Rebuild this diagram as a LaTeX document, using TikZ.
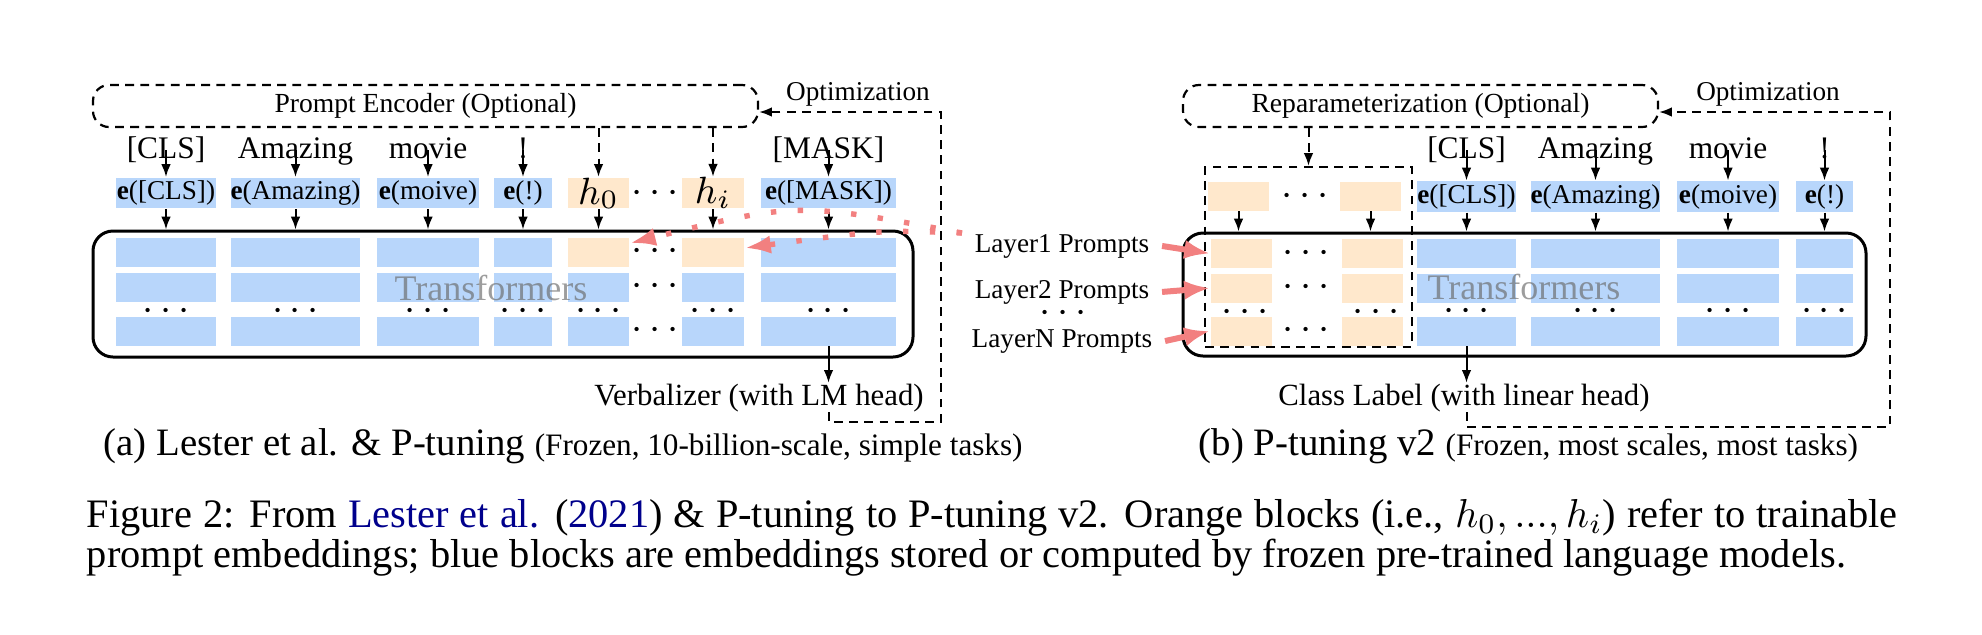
\documentclass[tikz,border=0pt]{standalone}
\usepackage{fix-cm}
\usepackage{fontspec}
\setmainfont{Liberation Serif}
\usetikzlibrary{arrows.meta,calc}
\definecolor{bluec}{RGB}{184,214,251}
\definecolor{orgc}{RGB}{255,232,204}
\definecolor{redc}{RGB}{242,128,128}
\definecolor{navyc}{RGB}{0,0,140}
\definecolor{tfgray}{RGB}{105,105,105}
\newcommand\fsSmall{\fontsize{6.8pt}{8pt}\selectfont}
\newcommand\fsEnc{\fontsize{6.9pt}{8pt}\selectfont}
\newcommand\fsTok{\fontsize{7.85pt}{9pt}\selectfont}
\newcommand\fsLab{\fontsize{7.7pt}{9pt}\selectfont}
\newcommand\fsTf{\fontsize{9pt}{10pt}\selectfont}
\newcommand\fsCap{\fontsize{10.1pt}{10pt}\selectfont}
\newcommand\fsSub{\fontsize{9.7pt}{10pt}\selectfont}
\newcommand\fsPar{\fontsize{7.8pt}{9pt}\selectfont}
\newcommand\fsH{\fontsize{9.5pt}{10pt}\selectfont}
\newcommand\mydots{{\fontsize{10pt}{10pt}\selectfont$\cdots$}}
\begin{document}
\begin{tikzpicture}[x=0.25pt, y=-0.25pt,
 bl/.style={fill=bluec, inner sep=0pt, minimum height=7.25pt},
 og/.style={fill=orgc, inner sep=0pt, minimum height=7.25pt},
 wd/.style={minimum width=#1*0.25pt},
 emb/.style={inner sep=0pt, minimum height=7.6pt, font=\fsSmall},
 tok/.style={inner sep=0pt, font=\fsTok, anchor=base},
 dts/.style={inner sep=0pt},
 lab/.style={inner sep=0pt, font=\fsLab, anchor=base},
 sml/.style={inner sep=0pt, font=\fsSmall, anchor=base},
 arr/.style={line width=0.5pt, -{Latex[length=3.2pt,width=2.4pt]}},
 darr/.style={arr, dash pattern=on 2.2pt off 1.6pt},
 dbox/.style={draw, line width=0.55pt, dash pattern=on 2.2pt off 1.6pt, inner sep=0pt},
 tbox/.style={draw, line width=0.75pt, rounded corners=5pt, inner sep=0pt},
 tft/.style={inner sep=0pt, anchor=base, font=\fsTf, text=tfgray, text opacity=0.65},
 rdot/.style={draw=redc, line width=1.35pt, dash pattern=on 1.35pt off 5.35pt, -{Latex[length=6.5pt,width=4.6pt]}},
 rarr/.style={draw=redc, line width=1.5pt, -{Latex[length=6.5pt,width=4.8pt]}}]
\useasboundingbox (0,0) rectangle (1982,634);

% ================= LEFT PANEL =================
\node[dbox, rounded corners=4pt, minimum width=166.25pt, minimum height=10.5pt, font=\fsEnc] (encA) at (425.5,106) {Prompt Encoder (Optional)};
\node[sml] (optA) at (858,100) {Optimization};
\node[tbox, minimum width=205pt, minimum height=31.5pt] (tfA) at (503,294) {};

% tokens
\node[tok] (Lt1) at (166,158) {[CLS]};
\node[tok] (Lt2) at (295.5,158) {Amazing};
\node[tok] (Lt3) at (428,158) {movie};
\node[tok] (Lt4) at (523,158) {!};
\node[tok] (Lt7) at (828.5,158) {[MASK]};

% embeddings
\node[emb, fill=bluec, wd=100] (Le1) at (166,193) {\textbf{e}([CLS])};
\node[emb, fill=bluec, wd=129] (Le2) at (295.5,193) {\textbf{e}(Amazing)};
\node[emb, fill=bluec, wd=102] (Le3) at (428,193) {\textbf{e}(moive)};
\node[emb, fill=bluec, wd=58] (Le4) at (523,193) {\textbf{e}(!)};
\node[emb, fill=orgc, wd=61, font=\fsH] (Le5) at (598.5,193) {$h_0$};
\node[emb, fill=orgc, wd=62, font=\fsH] (Le6) at (713,193) {$h_i$};
\node[emb, fill=bluec, wd=135] (Le7) at (828.5,193) {\textbf{e}([MASK])};
\node[dts] (Led) at (655,194) {\mydots};

% transformer blocks
\foreach \c/\xx/\w/\f in {1/166/100/bluec,2/295.5/129/bluec,3/428/102/bluec,4/523/58/bluec,5/598.5/61/orgc,6/713/62/orgc,7/828.5/135/bluec}{
  \node[bl, fill=\f, wd=\w] (L1\c) at (\xx,252) {};
  \node[bl, wd=\w] (L2\c) at (\xx,287) {};
  \node[bl, wd=\w] (L3\c) at (\xx,331) {};
  \node[dts] (Ld\c) at (\xx,312) {\mydots};
}
\node[dts] (Lc1) at (655,252) {\mydots};
\node[dts] (Lc2) at (655,287) {\mydots};
\node[dts] (Lc3) at (655,331) {\mydots};
\node[tft] (tfAt) at (491,300) {Transformers};

% arrows
\foreach \c in {1,2,3,4,7}{
  \draw[arr] ([yshift=2pt]Lt\c.base) -- (Le\c.north);
}
\foreach \c in {1,...,7}{
  \draw[arr] (Le\c.south) -- (Le\c.south |- tfA.north);
}
\draw[darr] (encA.south -| Le5) -- (Le5.north);
\draw[darr] (encA.south -| Le6) -- (Le6.north);

\node[lab] (verbA) at (759,405) {Verbalizer (with LM head)};
\draw[arr] (L37.south) -- (L37.south |- verbA.north);
\coordinate (oA) at (941,422);
\coordinate (oAt) at (941,112);
\draw[darr] (verbA.south -| L37.south) |- (oA) -- (oAt) -- (oAt -| encA.east);

\node[inner sep=0pt, anchor=base west, font=\fsSub] (subA) at (103,455) {(a) Lester et al. \& P-tuning {\fsPar (Frozen, 10-billion-scale, simple tasks)}};

% ================= RIGHT PANEL =================
\node[dbox, rounded corners=4pt, minimum width=118.75pt, minimum height=10.5pt, font=\fsEnc] (encB) at (1420.5,106) {Reparameterization (Optional)};
\node[sml] (optB) at (1768,100) {Optimization};
\node[tbox, minimum width=170.75pt, minimum height=30.75pt] (tfB) at (1524.5,294.5) {};
\node[dbox, minimum width=51.75pt, minimum height=45pt] (prm) at (1308.5,257) {};

% prompt embeddings
\node[og, wd=61] (Re1) at (1238.5,196) {};
\node[og, wd=61] (Re2) at (1370.5,196) {};
\node[dts] (Red) at (1305,197) {\mydots};
\foreach \r/\yy in {1/253.5,2/288,3/331}{
  \node[og, wd=61] (RA\r) at (1241.5,\yy) {};
  \node[og, wd=61] (RB\r) at (1372.5,\yy) {};
  \node[dts] (Rc\r) at (1306,\yy) {\mydots};
}
\node[dts] (RdA) at (1245,313) {\mydots};
\node[dts] (RdB) at (1376,313) {\mydots};

% tokens
\node[tok] (Rt1) at (1466.5,158) {[CLS]};
\node[tok] (Rt2) at (1595.5,158) {Amazing};
\node[tok] (Rt3) at (1728,158) {movie};
\node[tok] (Rt4) at (1824.5,158) {!};
\node[emb, fill=bluec, wd=99] (Rf1) at (1466.5,196.5) {\textbf{e}([CLS])};
\node[emb, fill=bluec, wd=129] (Rf2) at (1595.5,196.5) {\textbf{e}(Amazing)};
\node[emb, fill=bluec, wd=102] (Rf3) at (1728,196.5) {\textbf{e}(moive)};
\node[emb, fill=bluec, wd=57] (Rf4) at (1824.5,196.5) {\textbf{e}(!)};
\foreach \c/\xx/\w in {1/1466.5/99,2/1595.5/129,3/1728/102,4/1824.5/57}{
  \node[bl, wd=\w] (S1\c) at (\xx,253.5) {};
  \node[bl, wd=\w] (S2\c) at (\xx,288) {};
  \node[bl, wd=\w] (S3\c) at (\xx,331) {};
  \node[dts] (Sd\c) at (\xx,312) {\mydots};
  \draw[arr] ([yshift=2pt]Rt\c.base) -- (Rf\c.north);
  \draw[arr] (Rf\c.south) -- (Rf\c.south |- tfB.north);
}
\node[tft] (tfBt) at (1524,299) {Transformers};
\draw[arr] (Re1.south) -- (Re1.south |- tfB.north);
\draw[arr] (Re2.south) -- (Re2.south |- tfB.north);
\draw[darr] (encB.south -| prm.north) -- (prm.north);

% layer labels
\node[sml] (Ly1) at (1062,252) {Layer1 Prompts};
\node[sml] (Ly2) at (1062,298) {Layer2 Prompts};
\node[dts] (Lyd) at (1063,314) {\mydots};
\node[sml] (LyN) at (1062,347) {LayerN Prompts};
\draw[rarr] ([xshift=3pt]Ly1.east) -- (RA1.west);
\draw[rarr] ([xshift=3pt]Ly2.east) -- (RA2.west);
\draw[rarr] ([xshift=3pt]LyN.east) -- (RA3.west);

% class label & optimization
\node[lab] (clsB) at (1464,405) {Class Label (with linear head)};
\draw[arr] (S31.south) -- (S31.south |- clsB.north);
\coordinate (oB) at (1890,427);
\coordinate (oBt) at (1890,112);
\draw[darr] (clsB.south -| S31.south) |- (oB) -- (oBt) -- (oBt -| encB.east);

\node[inner sep=0pt, anchor=base west, font=\fsSub] (subB) at (1198,455) {(b) P-tuning v2 {\fsPar (Frozen, most scales, most tasks)}};

% red dotted lines (from layer prompts to the shallow prompts)
\coordinate (rs) at (962,233);
\draw[rdot] (rs) .. controls (797,202) .. ([yshift=2.2pt]L15.east);
\draw[rdot] (rs) .. controls (880,230) .. ([yshift=1pt]L16.east);

% ================= CAPTION =================
\node[inner sep=0pt, anchor=base west, font=\fsCap] (cap1) at (86,527) {\makebox[452.75pt][s]{Figure 2: From \textcolor{navyc}{Lester et al.} (\textcolor{navyc}{2021}) \& P-tuning to P-tuning v2. Orange blocks (i.e., $h_0, ..., h_i$) refer to trainable}};
\node[inner sep=0pt, anchor=base west, font=\fsCap] (cap2) at (86,567) {prompt embeddings; blue blocks are embeddings stored or computed by frozen pre-trained language models.};
\end{tikzpicture}
\end{document}
